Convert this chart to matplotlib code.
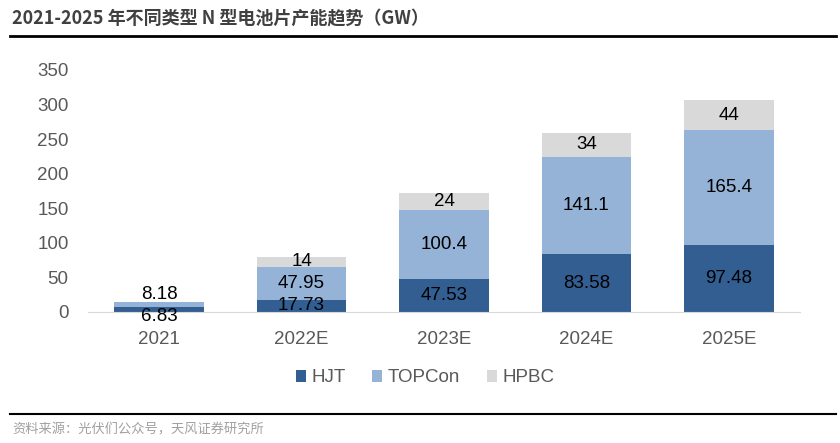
import matplotlib.pyplot as plt
import numpy as np

plt.rcParams['font.family'] = ['Liberation Sans', 'Noto Sans CJK SC', 'DejaVu Sans']

years = ['2021', '2022E', '2023E', '2024E', '2025E']
hjt = [6.83, 17.73, 47.53, 83.58, 97.48]
topcon = [8.18, 47.95, 100.4, 141.1, 165.4]
hpbc = [0, 14, 24, 34, 44]
hjt_labels = ['6.83', '17.73', '47.53', '83.58', '97.48']
topcon_labels = ['8.18', '47.95', '100.4', '141.1', '165.4']
hpbc_labels = ['', '14', '24', '34', '44']

colors = {'HJT': '#335E91', 'TOPCon': '#95B3D7', 'HPBC': '#D9D9D9'}

fig = plt.figure(figsize=(8.4, 4.43), dpi=100)
ax = fig.add_axes([88/840, 1 - 312/443, (800 - 88)/840, (312 - 70)/443])

x = np.arange(len(years))
w = 0.63
hjt = np.array(hjt)
topcon = np.array(topcon)
hpbc = np.array(hpbc)

ax.bar(x, hjt, w, color=colors['HJT'], label='HJT')
ax.bar(x, topcon, w, bottom=hjt, color=colors['TOPCon'], label='TOPCon')
ax.bar(x, hpbc, w, bottom=hjt + topcon, color=colors['HPBC'], label='HPBC')

for i in range(len(years)):
    # thin segments: push labels apart a little, like the original
    thin = hjt[i] + topcon[i] < 30
    ax.annotate(hjt_labels[i], (x[i], hjt[i] / 2),
                xytext=(0, -5 if thin else 0), textcoords='offset points',
                ha='center', va='center', fontsize=13.5, color='black')
    ax.annotate(topcon_labels[i], (x[i], hjt[i] + topcon[i] / 2),
                xytext=(0, 7 if thin else 0), textcoords='offset points',
                ha='center', va='center', fontsize=13.5, color='black')
    if hpbc_labels[i]:
        ax.text(x[i], hjt[i] + topcon[i] + hpbc[i] / 2, hpbc_labels[i],
                ha='center', va='center', fontsize=13.5, color='black')

ax.set_xlim(-0.5, 4.5)
ax.set_ylim(0, 350)
ax.set_yticks(range(0, 351, 50))
ax.set_xticks(x)
ax.set_xticklabels(years)
ax.tick_params(axis='both', length=0, labelsize=13.5, colors='#595959')
ax.tick_params(axis='x', pad=14)
ax.tick_params(axis='y', pad=14)
for s in ['top', 'right', 'left']:
    ax.spines[s].set_visible(False)
ax.spines['bottom'].set_color('#D9D9D9')

leg = fig.legend(loc='center', bbox_to_anchor=(425/840, 1 - 378/443), ncol=3,
                 frameon=False, fontsize=13.5, handlelength=0.55,
                 handleheight=0.55, handletextpad=0.3, columnspacing=1.4)
for t in leg.get_texts():
    t.set_color('#595959')

fig.text(12/840, 1 - 19/443, '2021-2025 年不同类型 N 型电池片产能趋势（GW）',
         fontsize=13, fontweight='bold', color='#404040', va='center',
         family=['Noto Sans CJK SC', 'DejaVu Sans'])
fig.add_artist(plt.Line2D([10/840, 836/840], [1 - 36/443, 1 - 36/443],
                          color='black', lw=2))
fig.add_artist(plt.Line2D([10/840, 836/840], [1 - 414/443, 1 - 414/443],
                          color='black', lw=1.5))
fig.text(12/840, 1 - 430/443, '资料来源：光伏们公众号，天风证券研究所',
         fontsize=9.5, color='#A0A0A0', va='center',
         family=['Noto Sans CJK SC', 'DejaVu Sans'])

fig.savefig('out.png', dpi=100)
